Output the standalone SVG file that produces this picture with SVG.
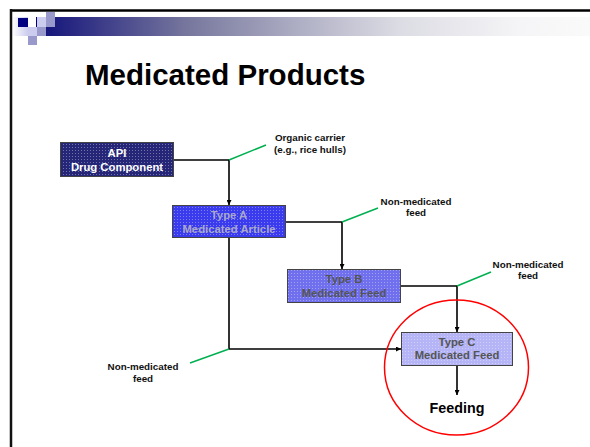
<svg xmlns="http://www.w3.org/2000/svg" width="590" height="447" viewBox="0 0 590 447">
<defs>
<linearGradient id="bar" x1="46" y1="0" x2="590" y2="0" gradientUnits="userSpaceOnUse">
<stop offset="0" stop-color="#16167c"/>
<stop offset="0.26" stop-color="#77779e"/>
<stop offset="0.49" stop-color="#b5b5c9"/>
<stop offset="0.65" stop-color="#dcdce4"/>
<stop offset="0.87" stop-color="#f5f5f7"/>
<stop offset="1" stop-color="#fafafa"/>
</linearGradient>
<linearGradient id="fadeL" x1="0" y1="0" x2="1" y2="0">
<stop offset="0" stop-color="#ffffff"/>
<stop offset="1" stop-color="#ccccee"/>
</linearGradient>
<pattern id="dots" width="3" height="3" patternUnits="userSpaceOnUse">
<rect x="0" y="0" width="1" height="1" fill="#ffffff" fill-opacity="0.35"/>
</pattern>
<marker id="arr" viewBox="0 0 10 10" refX="10" refY="5" markerWidth="5" markerHeight="5" orient="auto" markerUnits="userSpaceOnUse">
<path d="M0,0 L10,5 L0,10 z" fill="#000"/>
</marker>
<style>
.box{stroke:#444;stroke-width:1}
.bt{font-family:"Liberation Sans",Arial,sans-serif;font-weight:bold;font-size:11.3px;text-anchor:middle}
.lbl{font-family:"Liberation Sans",Arial,sans-serif;font-weight:bold;font-size:9.8px;text-anchor:middle;fill:#111}
.conn{stroke:#000;stroke-width:1.6;fill:none}
.grn{stroke:#00b050;stroke-width:1.5;fill:none}
</style>
</defs>
<rect width="590" height="447" fill="#fff"/>
<g id="header">
<rect x="12" y="17" width="16" height="19" fill="url(#fadeL)"/>
<rect x="46" y="17" width="544" height="19" fill="url(#bar)"/>
<rect x="18" y="18" width="10" height="9" fill="#000080"/>
<rect x="36" y="17" width="1" height="10" fill="#000080"/>
<rect x="37" y="17" width="9" height="10" fill="#ccccee"/>
<rect x="46" y="12" width="9" height="15" fill="#9999cc"/>
<rect x="28" y="27" width="9" height="9" fill="#ccccee"/>
<rect x="37" y="27" width="9" height="9" fill="#9999cc"/>
<rect x="28" y="36" width="9" height="9" fill="#9999cc"/>
<line x1="10" y1="10.5" x2="590" y2="10.5" stroke="#000" stroke-width="2.5"/>
<line x1="11" y1="9" x2="11" y2="447" stroke="#111" stroke-width="2.5"/>
</g>
<text x="85" y="85" font-family="Liberation Sans,Arial,sans-serif" font-weight="bold" font-size="29.5" fill="#000">Medicated Products</text>
<g id="connectors">
<polyline class="conn" points="174,160 229,160 229,205" marker-end="url(#arr)"/>
<polyline class="conn" points="286,222 342,222 342,269" marker-end="url(#arr)"/>
<polyline class="conn" points="401,286 457,286 457,332" marker-end="url(#arr)"/>
<polyline class="conn" points="229,238 229,349 401,349" marker-end="url(#arr)"/>
<line class="conn" x1="457" y1="366" x2="457" y2="395" marker-end="url(#arr)"/>
<line class="grn" x1="229" y1="160" x2="266" y2="145"/>
<line class="grn" x1="342" y1="222" x2="378" y2="208"/>
<line class="grn" x1="457" y1="286" x2="491" y2="272"/>
<line class="grn" x1="229" y1="349" x2="190" y2="363"/>
</g>
<g id="api">
<rect class="box" x="60.5" y="142.5" width="113" height="34" fill="#262678"/>
<rect x="61" y="143" width="112" height="33" fill="url(#dots)"/>
<text class="bt" x="117" y="157" fill="#fff">API</text>
<text class="bt" x="117" y="171" fill="#fff">Drug Component</text>
</g>
<g id="typeA">
<rect class="box" x="172.5" y="205.5" width="113" height="32" fill="#3a3aee"/>
<rect x="173" y="206" width="112" height="31" fill="url(#dots)"/>
<text class="bt" x="229" y="219" fill="#a8a8c8">Type A</text>
<text class="bt" x="229" y="233" fill="#a8a8c8">Medicated Article</text>
</g>
<g id="typeB">
<rect class="box" x="287.5" y="269.5" width="113" height="33" fill="#7070ee"/>
<rect x="288" y="270" width="112" height="32" fill="url(#dots)"/>
<text class="bt" x="344" y="283" fill="#555">Type B</text>
<text class="bt" x="344" y="297" fill="#555">Medicated Feed</text>
</g>
<g id="typeC">
<rect class="box" x="401.5" y="332.5" width="111" height="33" fill="#b4b4f6"/>
<rect x="402" y="333" width="110" height="32" fill="url(#dots)"/>
<text class="bt" x="457" y="346" fill="#555">Type C</text>
<text class="bt" x="457" y="359" fill="#555">Medicated Feed</text>
</g>
<g id="feeding">
<text x="457" y="413" font-family="Liberation Sans,Arial,sans-serif" font-weight="bold" font-size="14.3" text-anchor="middle" fill="#000">Feeding</text>
</g>
<g id="labels">
<text class="lbl" x="310" y="141">Organic carrier</text>
<text class="lbl" x="310" y="153">(e.g., rice hulls)</text>
<text class="lbl" x="416" y="205">Non-medicated</text>
<text class="lbl" x="416" y="216">feed</text>
<text class="lbl" x="528" y="268">Non-medicated</text>
<text class="lbl" x="528" y="279">feed</text>
<text class="lbl" x="143" y="370">Non-medicated</text>
<text class="lbl" x="143" y="382">feed</text>
</g>
<ellipse id="highlight" cx="456.5" cy="367.5" rx="72" ry="67.5" fill="none" stroke="#ff0000" stroke-width="1.5"/>
</svg>
